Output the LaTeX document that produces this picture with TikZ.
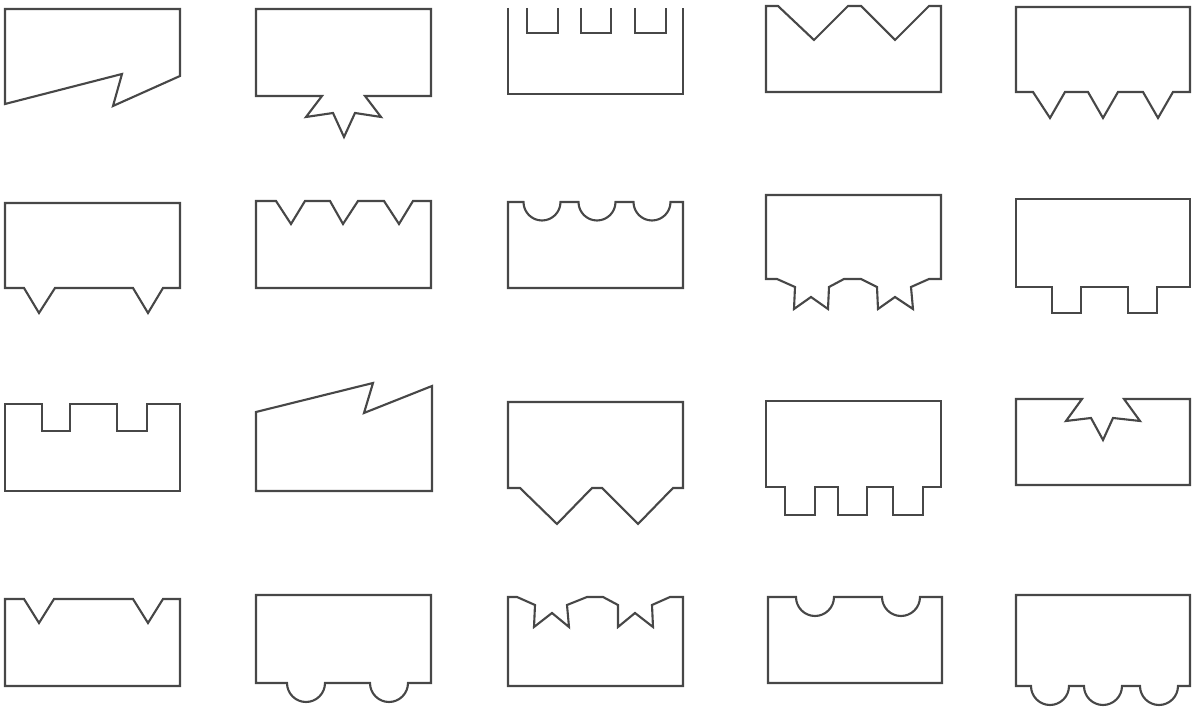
\documentclass[tikz,border=0pt]{standalone}
\usepackage{tikz}

\begin{document}
\begin{tikzpicture}[x=0.01cm, y=-0.01cm,
    outline/.style={draw=black!72, line width=0.6pt, line join=miter}]

        \useasboundingbox (0,0) rectangle (1193,707);

        % ===================================================
        % Row 1
        % ===================================================
        % slanted bottom with a notch
        \draw[outline] (5,9) -- (180,9) -- (180,76) -- (113,106) -- (122,74)
            -- (5,104) -- cycle;
        % star tab below
        \draw[outline] (256,9) -- (431,9) -- (431,96) -- (365,96) -- (381,117)
            -- (355,113) -- (344,137) -- (333,113) -- (306,117) -- (322,96)
            -- (256,96) -- cycle;
        % three square slots, open top
        \draw[outline] (508,8) -- (508,94) -- (683,94) -- (683,8);
        \draw[outline] (527,8) -- (527,33) -- (558,33) -- (558,8);
        \draw[outline] (581,8) -- (581,33) -- (611,33) -- (611,8);
        \draw[outline] (635,8) -- (635,33) -- (666,33) -- (666,8);
        % two deep V cuts on top
        \draw[outline] (766,6) -- (778,6) -- (814,40) -- (848,6) -- (861,6)
            -- (895,40) -- (929,6) -- (941,6) -- (941,92) -- (766,92) -- cycle;
        % three V teeth below
        \draw[outline] (1016,7) -- (1190,7) -- (1190,92) -- (1173,92) -- (1158,118)
            -- (1143,92) -- (1118,92) -- (1103,118) -- (1088,92) -- (1065,92)
            -- (1050,118) -- (1033,92) -- (1016,92) -- cycle;

        % ===================================================
        % Row 2
        % ===================================================
        % two V teeth below
        \draw[outline] (5,203) -- (180,203) -- (180,288) -- (163,288) -- (148,313)
            -- (133,288) -- (55,288) -- (39,313) -- (24,288) -- (5,288) -- cycle;
        % three V cuts on top
        \draw[outline] (256,201) -- (276,201) -- (291,224) -- (305,201) -- (330,201)
            -- (343,224) -- (358,201) -- (384,201) -- (399,224) -- (413,201)
            -- (431,201) -- (431,288) -- (256,288) -- cycle;
        % three round cuts on top
        \draw[outline] (508,202) -- (523.5,202) arc[start angle=180, end angle=0, radius=18.5]
            -- (578.5,202) arc[start angle=180, end angle=0, radius=18.5]
            -- (633.5,202) arc[start angle=180, end angle=0, radius=18.5]
            -- (683,202) -- (683,288) -- (508,288) -- cycle;
        % two star teeth below
        \draw[outline] (766,195) -- (941,195) -- (941,279) -- (929,279) -- (911,287)
            -- (913,309) -- (895,297) -- (878,309) -- (877,287) -- (861,279)
            -- (844,279) -- (829,287) -- (828,309) -- (811,297) -- (794,309)
            -- (795,287) -- (777,279) -- (766,279) -- cycle;
        % two square tabs below
        \draw[outline] (1016,199) -- (1190,199) -- (1190,287) -- (1157,287)
            -- (1157,313) -- (1128,313) -- (1128,287) -- (1081,287) -- (1081,313)
            -- (1052,313) -- (1052,287) -- (1016,287) -- cycle;

        % ===================================================
        % Row 3
        % ===================================================
        % two square slots on top
        \draw[outline] (5,404) -- (42,404) -- (42,431) -- (70,431) -- (70,404)
            -- (117,404) -- (117,431) -- (147,431) -- (147,404) -- (180,404)
            -- (180,491) -- (5,491) -- cycle;
        % slanted top with a notch
        \draw[outline] (256,412) -- (373,383) -- (364,413) -- (432,386)
            -- (432,491) -- (256,491) -- cycle;
        % two large V teeth below
        \draw[outline] (508,402) -- (683,402) -- (683,488) -- (673,488) -- (638,524)
            -- (602,488) -- (592,488) -- (557,524) -- (520,488) -- (508,488) -- cycle;
        % three square tabs below
        \draw[outline] (766,401) -- (941,401) -- (941,487) -- (923,487) -- (923,515)
            -- (893,515) -- (893,487) -- (867,487) -- (867,515) -- (838,515)
            -- (838,487) -- (815,487) -- (815,515) -- (785,515) -- (785,487)
            -- (766,487) -- cycle;
        % star cut on top
        \draw[outline] (1016,399) -- (1082,399) -- (1066,421) -- (1091,418)
            -- (1103,440) -- (1113,418) -- (1140,421) -- (1124,399) -- (1190,399)
            -- (1190,485) -- (1016,485) -- cycle;

        % ===================================================
        % Row 4
        % ===================================================
        % two V cuts on top
        \draw[outline] (5,599) -- (24,599) -- (39,623) -- (54,599) -- (133,599)
            -- (148,623) -- (163,599) -- (180,599) -- (180,686) -- (5,686) -- cycle;
        % two round tabs below
        \draw[outline] (256,595) -- (431,595) -- (431,683)
            -- (408,683) arc[start angle=0, end angle=180, radius=19]
            -- (325,683) arc[start angle=0, end angle=180, radius=19]
            -- (256,683) -- cycle;
        % two star cuts on top
        \draw[outline] (508,597) -- (517,597) -- (535,605) -- (534,627) -- (552,613)
            -- (569,627) -- (567,605) -- (587,597) -- (603,597) -- (618,605)
            -- (618,627) -- (635,613) -- (653,627) -- (652,605) -- (670,597)
            -- (683,597) -- (683,686) -- (508,686) -- cycle;
        % two round cuts on top
        \draw[outline] (768,597) -- (796,597) arc[start angle=180, end angle=0, radius=19]
            -- (882,597) arc[start angle=180, end angle=0, radius=19]
            -- (942,597) -- (942,683) -- (768,683) -- cycle;
        % three round tabs below
        \draw[outline] (1016,595) -- (1190,595) -- (1190,686)
            -- (1178,686) arc[start angle=0, end angle=180, radius=19]
            -- (1122,686) arc[start angle=0, end angle=180, radius=19]
            -- (1069,686) arc[start angle=0, end angle=180, radius=19]
            -- (1016,686) -- cycle;

    \end{tikzpicture}
\end{document}
